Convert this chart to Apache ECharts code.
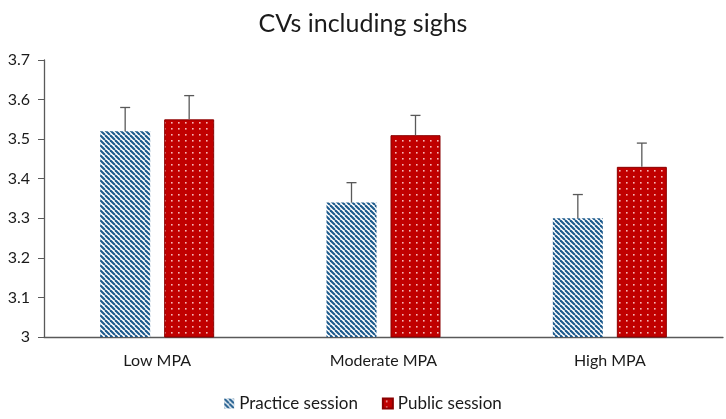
<!DOCTYPE html>
<html>
<head>
<meta charset="utf-8">
<script src="https://cdn.jsdelivr.net/npm/echarts@6/dist/echarts.min.js"></script>
<style>html,body{margin:0;padding:0;background:#fff}#c{width:726px;height:419px}</style>
</head>
<body>
<div id="c"></div>
<script>
const categories = ['Low MPA', 'Moderate MPA', 'High MPA'];
const seriesNames = ['Practice session', 'Public session'];
const practiceMeans = [3.52, 3.34, 3.30];
const practiceErr = [0.06, 0.05, 0.06];
const publicMeans = [3.55, 3.51, 3.43];
const publicErr = [0.06, 0.05, 0.06];
const yTicks = ['3', '3.1', '3.2', '3.3', '3.4', '3.5', '3.6', '3.7'];

function stripeTile() {
  const s = 5;
  const c = document.createElement('canvas');
  c.width = s; c.height = s;
  const g = c.getContext('2d');
  g.fillStyle = '#ffffff'; g.fillRect(0, 0, s, s);
  g.strokeStyle = '#1d5a8c'; g.lineWidth = 2.1;
  for (let k = -1; k <= 1; k++) {
    g.beginPath(); g.moveTo(k * s, 0); g.lineTo(k * s + s, s); g.stroke();
  }
  return c;
}
function dotTile() {
  const c = document.createElement('canvas');
  c.width = 7; c.height = 6;
  const g = c.getContext('2d');
  g.fillStyle = '#c00000'; g.fillRect(0, 0, 7, 6);
  g.fillStyle = '#f6b8b8'; g.fillRect(3, 2, 1.6, 1.6);
  return c;
}
const stripe = { image: stripeTile(), repeat: 'repeat' };
const dots = { image: dotTile(), repeat: 'repeat' };

const chart = echarts.init(document.getElementById('c'), null, { renderer: 'canvas' });
const FONT = 'Lato, "Open Sans", sans-serif';

function errSeries(means, errs, offset) {
  return {
    type: 'custom',
    silent: true,
    z: 5,
    data: means.map((m, i) => [i, m, m + errs[i]]),
    renderItem: function (params, api) {
      const base = api.coord([api.value(0), api.value(1)]);
      const top = api.coord([api.value(0), api.value(2)]);
      const x = base[0] + offset;
      const st = { stroke: '#595959', lineWidth: 1.3 };
      return {
        type: 'group',
        children: [
          { type: 'line', shape: { x1: x, y1: base[1], x2: x, y2: top[1] }, style: st },
          { type: 'line', shape: { x1: x - 5, y1: top[1], x2: x + 5, y2: top[1] }, style: st }
        ]
      };
    }
  };
}

chart.setOption({
  animation: false,
  backgroundColor: '#ffffff',
  title: {
    text: 'CVs including sighs',
    left: 'center',
    top: 6,
    textStyle: { fontFamily: FONT, fontSize: 25, fontWeight: 'normal', color: '#1a1a1a' }
  },
  legend: {
    bottom: 2,
    left: 'center',
    itemWidth: 10,
    itemHeight: 10,
    itemGap: 24,
    icon: 'rect',
    data: seriesNames,
    textStyle: { fontFamily: FONT, fontSize: 17, color: '#1a1a1a' }
  },
  grid: { left: 44, right: 3, top: 60, bottom: 82, containLabel: false },
  xAxis: {
    type: 'category',
    data: categories,
    axisTick: { show: false },
    axisLine: { lineStyle: { color: '#595959', width: 1.3 } },
    axisLabel: { fontFamily: FONT, fontSize: 16, color: '#1a1a1a', margin: 16 }
  },
  yAxis: {
    type: 'value',
    min: 3,
    max: 3.7,
    interval: 0.1,
    splitLine: { show: false },
    axisLine: { show: true, lineStyle: { color: '#595959', width: 1.3 } },
    axisTick: { show: true, length: 6, lineStyle: { color: '#595959' } },
    axisLabel: {
      fontFamily: FONT, fontSize: 16, color: '#1a1a1a', margin: 14,
      formatter: function (v) { const i = Math.round((v - 3) * 10); return yTicks[i] !== undefined ? yTicks[i] : ''; }
    }
  },
  series: [
    {
      name: seriesNames[0], type: 'bar', data: practiceMeans, barWidth: 50, barGap: '28%',
      itemStyle: { color: stripe }
    },
    {
      name: seriesNames[1], type: 'bar', data: publicMeans, barWidth: 50,
      itemStyle: { color: dots, borderColor: '#8a0000', borderWidth: 1 }
    },
    errSeries(practiceMeans, practiceErr, -32),
    errSeries(publicMeans, publicErr, 32)
  ]
});
</script>
</body>
</html>
